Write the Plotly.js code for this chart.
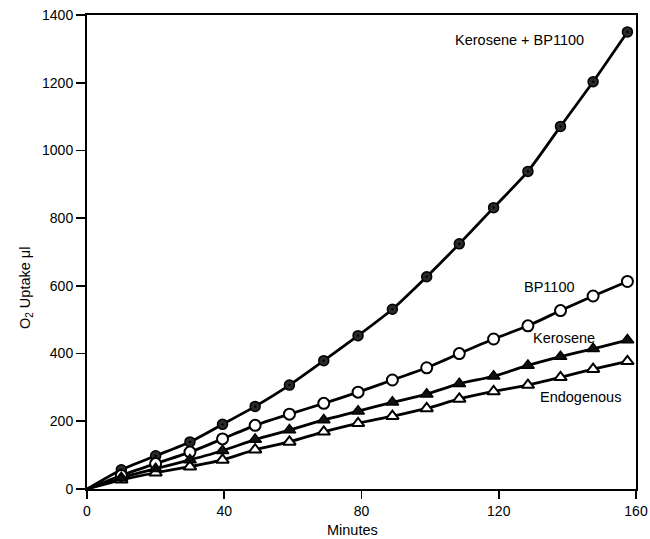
<!DOCTYPE html>
<html>
<head>
<meta charset="utf-8">
<script src="https://cdn.plot.ly/plotly-3.0.1.min.js"></script>
<style>
  html, body { margin: 0; padding: 0; background: #fff; }
  #chart { width: 650px; height: 539px; }
</style>
</head>
<body>
<div id="chart"></div>
<script>
// Sampling times (minutes)
const minutes = [10, 20, 30, 39.5, 49, 59, 69, 79, 89, 99, 108.5, 118.5, 128.5, 138, 147.5, 157.5];

// O2 uptake (µl) per treatment
const keroseneBP1100 = [57, 98, 139, 191, 244, 307, 379, 453, 531, 627, 724, 831, 938, 1071, 1203, 1350];
const bp1100        = [40, 75, 109, 148, 188, 221, 253, 286, 322, 358, 400, 443, 482, 527, 570, 613];
const kerosene      = [33, 60, 86, 113, 146, 174, 204, 230, 256, 280, 311, 333, 365, 391, 414, 440];
const endogenous    = [27, 48, 66, 86, 116, 139, 169, 194, 215, 238, 266, 288, 307, 330, 354, 377];

const seriesNames = ["Kerosene + BP1100", "BP1100", "Kerosene", "Endogenous"];
const xTicks = [0, 40, 80, 120, 160];
const yTicks = [0, 200, 400, 600, 800, 1000, 1200, 1400];

const allSeries = [keroseneBP1100, bp1100, kerosene, endogenous];
const markerStyles = [
  {symbol: "circle-dot", size: 10, color: "#2a2a2a", line: {color: "#000", width: 1.5}},
  {symbol: "circle", size: 11, color: "#ffffff", line: {color: "#000", width: 2}},
  {symbol: "triangle-up", size: 11, color: "#111111", line: {color: "#000", width: 1.5}},
  {symbol: "triangle-up-open", size: 11, color: "#000", line: {color: "#000", width: 2}}
];

const traces = [];
allSeries.forEach((vals) => {
  traces.push({
    x: [0].concat(minutes), y: [0].concat(vals),
    mode: "lines", type: "scatter",
    line: {color: "#000", width: 2.8, shape: "spline", smoothing: 0.6},
    hoverinfo: "skip", showlegend: false
  });
});
// white fill under the open triangles
traces.push({
  x: minutes, y: endogenous, mode: "markers", type: "scatter",
  marker: {symbol: "triangle-up", size: 10, color: "#fff", line: {width: 0}},
  showlegend: false, hoverinfo: "skip"
});
allSeries.forEach((vals, i) => {
  const m = markerStyles[i];
  traces.push({
    x: minutes, y: vals, name: seriesNames[i],
    mode: "markers", type: "scatter",
    marker: {symbol: m.symbol, size: m.size, color: m.color, line: m.line},
    showlegend: false
  });
});

const tickFont = {family: "Liberation Sans, Arial, sans-serif", size: 14, color: "#000"};
const labelFont = {family: "Liberation Sans, Arial, sans-serif", size: 14.5, color: "#000"};

const layout = {
  width: 650, height: 539,
  margin: {l: 87, r: 14, t: 15, b: 50},
  paper_bgcolor: "#fff", plot_bgcolor: "#fff",
  font: tickFont,
  showlegend: false,
  xaxis: {
    range: [0, 160], tickvals: xTicks, ticktext: xTicks.map(String),
    ticks: "outside", ticklen: 8, tickwidth: 1.6, tickcolor: "#000",
    showline: true, linecolor: "#000", linewidth: 2, mirror: true,
    showgrid: false, zeroline: false,
    tickfont: tickFont
  },
  yaxis: {
    range: [0, 1400], tickvals: yTicks, ticktext: yTicks.map(String),
    ticks: "outside", ticklen: 9, tickwidth: 1.6, tickcolor: "#000",
    showline: true, linecolor: "#000", linewidth: 2, mirror: true,
    showgrid: false, zeroline: false,
    tickfont: tickFont
  },
  annotations: [
    {x: 126, y: 1326, text: seriesNames[0], showarrow: false, font: labelFont},
    {x: 134.8, y: 597, text: seriesNames[1], showarrow: false, font: labelFont},
    {x: 138.9, y: 447, text: seriesNames[2], showarrow: false, font: labelFont},
    {x: 143.7, y: 272, text: seriesNames[3], showarrow: false, font: labelFont},
    {xref: "paper", yref: "paper", x: -0.131, y: 0.424, textangle: -90,
     text: "O<sub>2</sub> Uptake \u03bcl", showarrow: false, font: labelFont},
    {xref: "paper", yref: "paper", x: 0.483, y: -0.087, yanchor: "middle",
     text: "Minutes", showarrow: false, font: labelFont}
  ]
};

Plotly.newPlot("chart", traces, layout, {displayModeBar: false, staticPlot: true});
</script>
</body>
</html>
